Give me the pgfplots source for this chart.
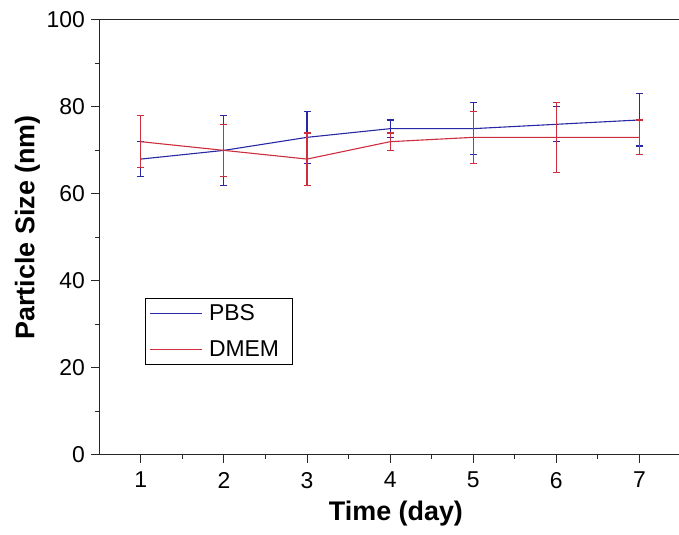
\documentclass[border=0pt]{standalone}
\usepackage{fontspec}
\setmainfont{Liberation Sans}
\usepackage{pgfplots}
\pgfplotsset{compat=1.18}
\definecolor{pbsblue}{RGB}{40,40,165}
\definecolor{dmemred}{RGB}{205,45,60}
\begin{document}
\begin{tikzpicture}
\path[use as bounding box] (-99.3bp,-80bp) rectangle (579.7bp,454.6bp);
\begin{axis}[
    scale only axis,
    width=581.7bp, height=434.6bp,
    xmin=0.5, xmax=7.5, ymin=0, ymax=100,
    axis x line*=box, axis y line*=left,
    axis line style={line width=1bp, black!85},
    xtick={1,...,7}, ytick={0,20,...,100},
    minor x tick num=1, minor y tick num=1,
    xtick pos=bottom, ytick pos=left,
    tick align=outside,
    major tick length=8bp, minor tick length=4bp,
    every tick/.style={line width=1bp, black!85},
    /pgf/number format/assume math mode=true,
    ticklabel style={font=\fontsize{23}{27}\selectfont},
    xticklabel style={yshift=-6bp},
    yticklabel style={xshift=-3bp},
    xlabel={\textbf{Time (day)}},
    ylabel={\textbf{Particle Size (nm)}},
    every axis x label/.style={at={(rel axis cs:0.51,0)}, anchor=base, yshift=-66bp, font=\fontsize{27}{32}\selectfont},
    every axis y label/.style={at={(rel axis cs:0,0.523)}, xshift=-72bp, rotate=90, anchor=center, font=\fontsize{27}{32}\selectfont},
    legend style={at={(rel axis cs:0.0786,0.207)}, anchor=south west,
        draw=black, line width=0.8bp, font=\fontsize{23}{27}\selectfont,
        inner xsep=4bp, inner ysep=4.5bp, row sep=16bp,
        nodes={inner sep=1.5bp}},
    legend cell align=left,
    legend image code/.code={\draw[#1] (0bp,0bp) -- (52bp,0bp);},
    clip=false,
]
\addplot[pbsblue, line width=1.1bp,
    error bars/.cd, y dir=both, y explicit,
    error bar style={pbsblue, line width=1.1bp},
    error mark options={rotate=90, pbsblue, mark size=3.5bp, line width=1.1bp}]
  coordinates {
    (1,68) +- (0,4)
    (2,70) +- (0,8)
    (3,73) +- (0,6)
    (4,75) +- (0,2)
    (5,75) +- (0,6)
    (6,76) +- (0,4)
    (7,77) +- (0,6)
  };
\addplot[dmemred, line width=1.1bp,
    error bars/.cd, y dir=both, y explicit,
    error bar style={dmemred, line width=1.1bp},
    error mark options={rotate=90, dmemred, mark size=3.5bp, line width=1.1bp}]
  coordinates {
    (1,72) +- (0,6)
    (2,70) +- (0,6)
    (3,68) +- (0,6)
    (4,72) +- (0,2)
    (5,73) +- (0,6)
    (6,73) +- (0,8)
    (7,73) +- (0,4)
  };
\legend{\hspace*{5bp}PBS\hspace*{8bp}, \hspace*{5bp}DMEM\hspace*{8bp}}
\end{axis}
\end{tikzpicture}
\end{document}
